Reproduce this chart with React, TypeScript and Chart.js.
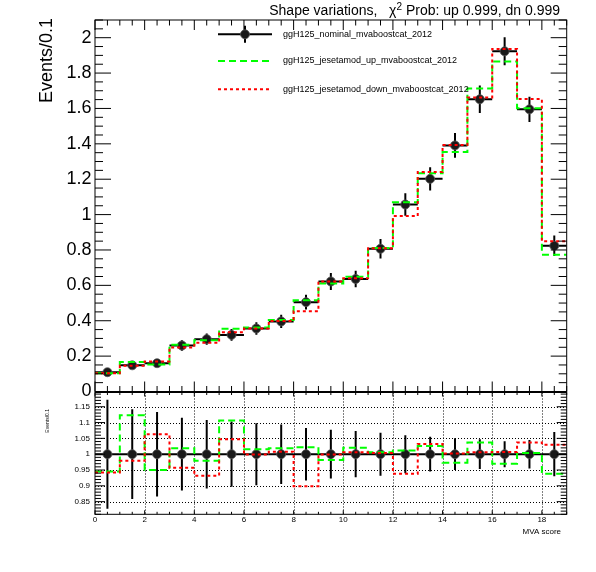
import React, { useEffect, useRef } from "react";
import Chart from "chart.js/auto";

const FONT = '"Liberation Sans", Arial, Helvetica, sans-serif';

// 19 bins of width 1 on the MVA score axis
const binEdges = [0, 1, 2, 3, 4, 5, 6, 7, 8, 9, 10, 11, 12, 13, 14, 15, 16, 17, 18, 19];

const nominal = [
  0.109, 0.148, 0.16, 0.26, 0.296, 0.32, 0.356, 0.396, 0.505, 0.622,
  0.636, 0.807, 1.057, 1.202, 1.391, 1.652, 1.923, 1.595, 0.824,
];
const nominalErr = [
  0.0188, 0.021, 0.0214, 0.0299, 0.032, 0.033, 0.0349, 0.0372, 0.0419, 0.0479,
  0.0464, 0.0549, 0.0634, 0.0661, 0.0696, 0.0776, 0.0788, 0.0718, 0.0577,
];
const shapeUp = [
  0.103, 0.1662, 0.152, 0.2649, 0.2898, 0.3542, 0.3617, 0.4035, 0.5161, 0.6108,
  0.6487, 0.8118, 1.0697, 1.2333, 1.3534, 1.7131, 1.8653, 1.6014, 0.7729,
];
const shapeDown = [
  0.1027, 0.1449, 0.1701, 0.2488, 0.2759, 0.335, 0.3556, 0.3992, 0.454, 0.6214,
  0.6398, 0.8102, 0.9915, 1.2405, 1.3938, 1.6619, 1.9365, 1.654, 0.8487,
];

const topYTicks = [0, 0.2, 0.4, 0.6, 0.8, 1, 1.2, 1.4, 1.6, 1.8, 2];
const ratioYTicks = [0.85, 0.9, 0.95, 1, 1.05, 1.1, 1.15];
const xTicks = [0, 2, 4, 6, 8, 10, 12, 14, 16, 18];

const legendLabels = [
  "ggH125_nominal_mvaboostcat_2012",
  "ggH125_jesetamod_up_mvaboostcat_2012",
  "ggH125_jesetamod_down_mvaboostcat_2012",
];

const GREEN = "#00ff00";
const RED = "#ff0000";
const UP_DASH = [7, 4];
const DOWN_DASH = [3, 3];

const centers = nominal.map((_, i) => (binEdges[i] + binEdges[i + 1]) / 2);
const histPoints = (vals: number[]) =>
  vals.flatMap((v, i) => [
    { x: binEdges[i], y: v },
    { x: binEdges[i + 1], y: v },
  ]);
const ratioUp = shapeUp.map((v, i) => v / nominal[i]);
const ratioDown = shapeDown.map((v, i) => v / nominal[i]);
const ratioErr = nominalErr.map((e, i) => e / nominal[i]);
const ones = nominal.map(() => 1);

const steps = (min: number, max: number, step: number) => {
  const out: number[] = [];
  for (let k = Math.ceil(min / step - 1e-9); k * step <= max + 1e-9; k++) out.push(k * step);
  return out;
};
const isMultiple = (v: number, m: number) => Math.abs(v / m - Math.round(v / m)) < 1e-6;

const errorBars = (vals: number[], errs: number[]) => ({
  id: "errorBars",
  beforeDatasetsDraw(chart: any) {
    const { ctx, chartArea: a, scales } = chart;
    const { x, y } = scales;
    ctx.save();
    ctx.beginPath();
    ctx.rect(a.left, a.top, a.right - a.left, a.bottom - a.top);
    ctx.clip();
    ctx.strokeStyle = "#000";
    ctx.lineWidth = 2;
    vals.forEach((v, i) => {
      const xc = x.getPixelForValue(centers[i]);
      const yc = y.getPixelForValue(v);
      ctx.beginPath();
      ctx.moveTo(x.getPixelForValue(binEdges[i]), yc);
      ctx.lineTo(x.getPixelForValue(binEdges[i + 1]), yc);
      ctx.moveTo(xc, y.getPixelForValue(v - errs[i]));
      ctx.lineTo(xc, y.getPixelForValue(v + errs[i]));
      ctx.stroke();
    });
    ctx.restore();
  },
});

interface FrameOpts {
  grid: boolean;
  xMinor: number;
  xMajor: number;
  xMajLen: number;
  xMinLen: number;
  yMinor: number;
  yMajor: number;
  yMajLen: number;
  yMinLen: number;
}

const rootFrame = (o: FrameOpts) => ({
  id: "rootFrame",
  beforeDatasetsDraw(chart: any) {
    if (!o.grid) return;
    const { ctx, chartArea: a, scales } = chart;
    const { x, y } = scales;
    ctx.save();
    ctx.strokeStyle = "#000";
    ctx.lineWidth = 1;
    ctx.setLineDash([1, 2]);
    ctx.beginPath();
    xTicks.forEach((v) => {
      if (v <= x.min) return;
      const px = Math.round(x.getPixelForValue(v)) + 0.5;
      ctx.moveTo(px, a.top);
      ctx.lineTo(px, a.bottom);
    });
    ratioYTicks.forEach((v) => {
      const py = Math.round(y.getPixelForValue(v)) + 0.5;
      ctx.moveTo(a.left, py);
      ctx.lineTo(a.right, py);
    });
    ctx.stroke();
    ctx.restore();
  },
  afterDatasetsDraw(chart: any) {
    const { ctx, chartArea: a, scales } = chart;
    const { x, y } = scales;
    ctx.save();
    ctx.strokeStyle = "#000";
    ctx.lineWidth = 1;
    ctx.strokeRect(a.left, a.top, a.right - a.left, a.bottom - a.top);
    ctx.beginPath();
    steps(x.min, x.max, o.xMinor).forEach((v) => {
      const len = isMultiple(v, o.xMajor) ? o.xMajLen : o.xMinLen;
      const px = x.getPixelForValue(v);
      ctx.moveTo(px, a.bottom);
      ctx.lineTo(px, a.bottom - len);
      ctx.moveTo(px, a.top);
      ctx.lineTo(px, a.top + len);
    });
    steps(y.min, y.max, o.yMinor).forEach((v) => {
      const len = isMultiple(v, o.yMajor) ? o.yMajLen : o.yMinLen;
      const py = y.getPixelForValue(v);
      ctx.moveTo(a.left, py);
      ctx.lineTo(a.left + len, py);
      ctx.moveTo(a.right, py);
      ctx.lineTo(a.right - len, py);
    });
    ctx.stroke();
    ctx.restore();
  },
});

const topText = {
  id: "topText",
  afterDraw(chart: any) {
    const { ctx } = chart;
    ctx.save();
    ctx.fillStyle = "#000";
    ctx.textBaseline = "alphabetic";
    ctx.textAlign = "left";
    // title, right aligned, with a superscript 2 after chi
    const big = `14px ${FONT}`;
    const small = `10px ${FONT}`;
    ctx.font = big;
    const tail = " Prob: up 0.999, dn 0.999";
    const head = "Shape variations,   ";
    const wTail = ctx.measureText(tail).width;
    const wChi = ctx.measureText("\u03c7").width;
    const wHead = ctx.measureText(head).width;
    ctx.font = small;
    const wSup = ctx.measureText("2").width;
    const xTail = 560 - wTail;
    const xSup = xTail - wSup;
    const xChi = xSup - wChi;
    ctx.font = big;
    ctx.fillText(tail, xTail, 15);
    ctx.fillText("\u03c7", xChi, 15);
    ctx.fillText(head, xChi - wHead, 15);
    ctx.font = small;
    ctx.fillText("2", xSup, 10);

    // y title
    ctx.save();
    ctx.font = `18px ${FONT}`;
    ctx.translate(47.5, 18);
    ctx.rotate(-Math.PI / 2);
    ctx.textAlign = "right";
    ctx.textBaseline = "middle";
    ctx.fillText("Events/0.1", 0, 0);
    ctx.restore();

    // legend
    const x0 = 218;
    const x1 = 272;
    const rowY = [34.3, 61, 89.3];
    ctx.lineWidth = 2;
    ctx.strokeStyle = "#000";
    ctx.beginPath();
    ctx.moveTo(x0, rowY[0]);
    ctx.lineTo(x1, rowY[0]);
    ctx.moveTo(245, rowY[0] - 8.5);
    ctx.lineTo(245, rowY[0] + 8.5);
    ctx.stroke();
    ctx.beginPath();
    ctx.arc(245, rowY[0], 4.5, 0, Math.PI * 2);
    ctx.fillStyle = "#1a1a1a";
    ctx.fill();
    ctx.lineWidth = 1;
    ctx.strokeStyle = "rgba(90,90,90,0.8)";
    ctx.stroke();

    ctx.lineWidth = 2;
    ctx.setLineDash(UP_DASH);
    ctx.strokeStyle = GREEN;
    ctx.beginPath();
    ctx.moveTo(x0, rowY[1]);
    ctx.lineTo(x1, rowY[1]);
    ctx.stroke();
    ctx.setLineDash(DOWN_DASH);
    ctx.strokeStyle = RED;
    ctx.beginPath();
    ctx.moveTo(x0, rowY[2]);
    ctx.lineTo(x1, rowY[2]);
    ctx.stroke();
    ctx.setLineDash([]);

    ctx.fillStyle = "#000";
    ctx.font = `9px ${FONT}`;
    ctx.textAlign = "left";
    ctx.textBaseline = "middle";
    legendLabels.forEach((t, i) => ctx.fillText(t, 283, rowY[i]));
    ctx.restore();
  },
};

const ratioText = {
  id: "ratioText",
  afterDraw(chart: any) {
    const { ctx } = chart;
    ctx.save();
    ctx.fillStyle = "#000";
    ctx.font = `8px ${FONT}`;
    ctx.textAlign = "right";
    ctx.textBaseline = "middle";
    ctx.fillText("MVA score", 561, 531.5 - 380);
    ctx.font = `5px ${FONT}`;
    ctx.translate(48, 409 - 380);
    ctx.rotate(-Math.PI / 2);
    ctx.fillText("Events/0.1", 0, 0);
    ctx.restore();
  },
};

const stepDataset = (label: string, vals: number[], color: string, dash: number[]) => ({
  label,
  data: histPoints(vals),
  borderColor: color,
  borderWidth: 2,
  borderDash: dash,
  pointRadius: 0,
  fill: false,
  tension: 0,
});

const pointDataset = (vals: number[]) => ({
  label: legendLabels[0],
  data: vals.map((v, i) => ({ x: centers[i], y: v })),
  showLine: false,
  pointRadius: 4.5,
  pointBackgroundColor: "#1a1a1a",
  pointBorderColor: "rgba(90,90,90,0.8)",
  pointBorderWidth: 1,
});

const tickFont = (size: number) => ({ family: FONT, size });

export default function App() {
  const topRef = useRef<HTMLCanvasElement | null>(null);
  const ratioRef = useRef<HTMLCanvasElement | null>(null);

  useEffect(() => {
    if (!topRef.current || !ratioRef.current) return;

    const top = new Chart(topRef.current, {
      type: "line",
      data: {
        datasets: [
          stepDataset(legendLabels[2], shapeDown, RED, DOWN_DASH),
          stepDataset(legendLabels[1], shapeUp, GREEN, UP_DASH),
          pointDataset(nominal),
        ] as any,
      },
      options: {
        responsive: false,
        animation: false,
        events: [],
        layout: { padding: { top: 20, bottom: 15.5, left: 0, right: 29.3 } },
        plugins: { legend: { display: false }, tooltip: { enabled: false } },
        scales: {
          x: {
            type: "linear",
            min: 0,
            max: 19,
            ticks: { display: false },
            grid: { display: false },
            border: { display: false },
            afterFit: (s: any) => {
              s.height = 0;
            },
          },
          y: {
            type: "linear",
            min: 0,
            max: 2.1,
            afterBuildTicks: (s: any) => {
              s.ticks = topYTicks.map((value) => ({ value }));
            },
            ticks: {
              font: tickFont(18),
              color: "#000",
              padding: 3.5,
              autoSkip: false,
              callback: (v: any) => String(Number(Number(v).toFixed(2))),
            },
            grid: { display: false, drawTicks: false },
            border: { display: false },
            afterFit: (s: any) => {
              s.width = 95;
            },
          },
        },
      },
      plugins: [
        errorBars(nominal, nominalErr),
        rootFrame({
          grid: false,
          xMinor: 0.5,
          xMajor: 2,
          xMajLen: 10,
          xMinLen: 5.5,
          yMinor: 0.05,
          yMajor: 0.2,
          yMajLen: 16,
          yMinLen: 8,
        }),
        topText,
      ],
    });

    const ratio = new Chart(ratioRef.current, {
      type: "line",
      data: {
        datasets: [
          stepDataset(legendLabels[2], ratioDown, RED, DOWN_DASH),
          stepDataset(legendLabels[1], ratioUp, GREEN, UP_DASH),
          pointDataset(ones),
        ] as any,
      },
      options: {
        responsive: false,
        animation: false,
        events: [],
        layout: { padding: { top: 12.5, bottom: 37.7, left: 0, right: 29.3 } },
        plugins: { legend: { display: false }, tooltip: { enabled: false } },
        scales: {
          x: {
            type: "linear",
            min: 0,
            max: 19,
            afterBuildTicks: (s: any) => {
              s.ticks = xTicks.map((value) => ({ value }));
            },
            ticks: {
              font: tickFont(8),
              color: "#000",
              padding: 1,
              autoSkip: false,
              maxRotation: 0,
            },
            grid: { display: false, drawTicks: false },
            border: { display: false },
            afterFit: (s: any) => {
              s.height = 20;
            },
          },
          y: {
            type: "linear",
            min: 0.81,
            max: 1.195,
            afterBuildTicks: (s: any) => {
              s.ticks = ratioYTicks.map((value) => ({ value }));
            },
            ticks: {
              font: tickFont(8),
              color: "#000",
              padding: 5,
              autoSkip: false,
              callback: (v: any) => String(Number(Number(v).toFixed(2))),
            },
            grid: { display: false, drawTicks: false },
            border: { display: false },
            afterFit: (s: any) => {
              s.width = 95;
            },
          },
        },
      },
      plugins: [
        rootFrame({
          grid: true,
          xMinor: 0.5,
          xMajor: 2,
          xMajLen: 4,
          xMinLen: 2.5,
          yMinor: 0.01,
          yMajor: 0.05,
          yMajLen: 10,
          yMinLen: 6,
        }),
        errorBars(ones, ratioErr),
        ratioText,
      ],
    });

    return () => {
      top.destroy();
      ratio.destroy();
    };
  }, []);

  return (
    <div style={{ position: "absolute", left: 0, top: 0, width: 596, height: 572, background: "#fff" }}>
      <canvas ref={topRef} width={596} height={407} style={{ position: "absolute", left: 0, top: 0 }} />
      <canvas ref={ratioRef} width={596} height={192} style={{ position: "absolute", left: 0, top: 380 }} />
    </div>
  );
}
